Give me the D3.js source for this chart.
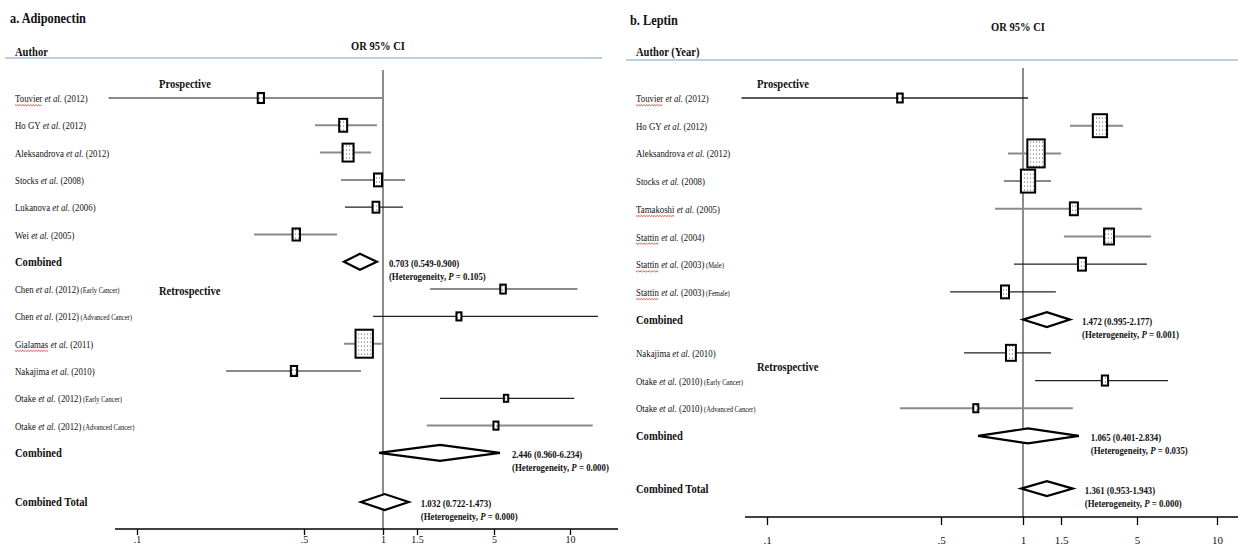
<!DOCTYPE html>
<html><head><meta charset="utf-8">
<script src="https://cdn.jsdelivr.net/npm/d3@7"></script>
<style>
body{margin:0;background:#fff}
svg{display:block}
text{font-family:"Liberation Serif","Times New Roman",serif;fill:#111}
</style>
</head><body>
<svg id="chart" width="1238" height="548"></svg>
<script>
// ---------------- DATA ----------------
// a. Adiponectin
const adipoAuthors = ["Touvier","Ho GY","Aleksandrova","Stocks","Lukanova","Wei","Chen","Chen","Gialamas","Nakajima","Otake","Otake"];
const adipoYears   = ["(2012)","(2012)","(2012)","(2008)","(2006)","(2005)","(2012)","(2012)","(2011)","(2010)","(2012)","(2012)"];
const adipoNotes   = ["","","","","","","(Early Cancer)","(Advanced Cancer)","","","(Early Cancer)","(Advanced Cancer)"];
const adipoDesign  = ["Prospective","Prospective","Prospective","Prospective","Prospective","Prospective",
                      "Retrospective","Retrospective","Retrospective","Retrospective","Retrospective","Retrospective"];
const adipoOR      = [0.330,0.705,0.736,0.957,0.940,0.464,5.43,2.89,0.848,0.454,5.58,5.09];
const adipoLower   = [0.076,0.551,0.575,0.692,0.716,0.309,1.84,0.916,0.710,0.236,2.15,1.75];
const adipoUpper   = [1.00,0.948,0.900,1.30,1.27,0.668,10.7,12.9,0.99,0.824,10.4,12.3];
const adipoWeight  = [3.6,4.6,6.4,4.6,3.9,4.3,3.2,2.9,10,3.6,2.5,2.9];
const adipoPooledLabel = ["Combined","Combined","Combined Total"];
const adipoPooledOR    = [0.817,2.15,1.02];
const adipoPooledLower = [0.710,0.966,0.824];
const adipoPooledUpper = [0.948,5.28,1.36];
const adipoPooledText  = ["0.703 (0.549-0.900)","2.446 (0.960-6.234)","1.032 (0.722-1.473)"];
const adipoPooledP     = ["0.105","0.000","0.000"];

// b. Leptin
const leptinAuthors = ["Touvier","Ho GY","Aleksandrova","Stocks","Tamakoshi","Stattin","Stattin","Stattin","Nakajima","Otake","Otake"];
const leptinYears   = ["(2012)","(2012)","(2012)","(2008)","(2005)","(2004)","(2003)","(2003)","(2010)","(2010)","(2010)"];
const leptinNotes   = ["","","","","","","(Male)","(Female)","","(Early Cancer)","(Advanced  Cancer)"];
const leptinDesign  = ["Prospective","Prospective","Prospective","Prospective","Prospective","Prospective","Prospective","Prospective",
                       "Retrospective","Retrospective","Retrospective"];
const leptinOR      = [0.342,2.78,1.149,1.055,1.84,3.21,2.09,0.859,0.903,3.01,0.671];
const leptinLower   = [0.079,1.73,0.881,0.851,0.789,1.57,0.927,0.540,0.607,1.137,0.342];
const leptinUpper   = [1.055,4.01,1.50,1.349,5.22,5.65,5.45,1.42,1.349,6.54,1.81];
const leptinWeight  = [3.2,8.2,10,8.2,4.6,5.7,4.6,4.6,5.7,3.6,2.9];
const leptinPooledLabel = ["Combined","Combined","Combined Total"];
const leptinPooledOR    = [1.29,1.055,1.29];
const leptinPooledLower = [1.0,0.684,0.984];
const leptinPooledUpper = [1.73,1.99,1.81];
const leptinPooledText  = ["1.472 (0.995-2.177)","1.065 (0.401-2.834)","1.361 (0.953-1.943)"];
const leptinPooledP     = ["0.001","0.035","0.000"];

// shared axis ticks
const tickValues = [0.1,0.5,1,1.5,5,10];
const tickLabels = [".1",".5","1","1.5","5","10"];
const sectionNames = ["Prospective","Retrospective"];
const spellFlagged = ["Touvier","Gialamas","Tamakoshi","Stattin"];

// ---------------- DRAWING ----------------
const svg = d3.select("#chart");
svg.append("rect").attr("width",1238).attr("height",548).attr("fill","#fff");

const defs = svg.append("defs");
const pat = defs.append("pattern").attr("id","dots").attr("patternUnits","userSpaceOnUse")
  .attr("width",3).attr("height",4);
pat.append("rect").attr("width",3).attr("height",4).attr("fill","#fff");
pat.append("circle").attr("cx",1.5).attr("cy",2).attr("r",0.55).attr("fill","#444");

const SQ = 0.88; // condensed look of the original serif type

function condensed(g, x, y) {
  return g.append("g").attr("transform", `translate(${x},${y}) scale(${SQ},1)`);
}

function drawPanel(cfg) {
  const g = svg.append("g");
  const xs = d3.scaleLinear().domain(tickValues.map(Math.log10)).range(cfg.tickPx);
  const x = v => xs(Math.log10(v));
  const wScale = d3.scaleLinear().domain([0,10]).range([0,28]);

  // row slots
  const nPro = cfg.design.filter(d => d === sectionNames[0]).length;
  const nRet = cfg.design.length - nPro;
  const slots = cfg.design.map((d,i) => i < nPro ? i : nPro + 1 + cfg.sectionGap + (i - nPro));
  const pooledSlots = [nPro, nPro + 1 + cfg.sectionGap + nRet];
  pooledSlots.push(pooledSlots[1] + 1 + cfg.totalGap);
  const y = d3.scaleLinear().domain([0,1]).range([cfg.y0, cfg.y0 + cfg.step]);

  // titles
  condensed(g, cfg.titleX, cfg.titleY).append("text").attr("font-size",14).attr("font-weight","bold").text(cfg.title);
  condensed(g, cfg.headX, cfg.headY).append("text").attr("font-size",12).attr("font-weight","bold").text(cfg.head);
  condensed(g, cfg.orX, cfg.orY).append("text").attr("font-size",12).attr("font-weight","bold")
    .attr("text-anchor","middle").text("OR 95% CI");
  g.append("line").attr("x1",cfg.ruleX0).attr("x2",cfg.ruleX1).attr("y1",cfg.ruleY).attr("y2",cfg.ruleY)
    .attr("stroke","#9fbfdf").attr("stroke-width",1.6);

  // reference line at OR = 1
  g.append("line").attr("x1",x(1)).attr("x2",x(1)).attr("y1",cfg.refTop).attr("y2",cfg.axisY)
    .attr("stroke","#666").attr("stroke-width",1.5);

  // section labels
  condensed(g, cfg.sectionX, y(-0.37)).append("text").attr("font-size",12).attr("font-weight","bold").text(sectionNames[0]);
  condensed(g, cfg.sectionX, y(nPro + 1 + cfg.sectionGap + cfg.retroOffset) + 4).append("text")
    .attr("font-size",12).attr("font-weight","bold").text(sectionNames[1]);

  // study labels
  cfg.authors.forEach((a,i) => {
    const grp = condensed(g, cfg.labelX, y(slots[i]) + 4);
    const t = grp.append("text").attr("font-size",10);
    const at = t.append("tspan").text(a);
    t.append("tspan").attr("font-style","italic").text(" et al.");
    t.append("tspan").text(" " + cfg.years[i]);
    if (cfg.notes[i]) t.append("tspan").attr("font-size",7.5).text(" " + cfg.notes[i]);
    if (spellFlagged.includes(a)) {
      const w = at.node().getComputedTextLength();
      const pts = d3.range(0, w + 0.1, 1.5).map((px,k) => [px, 2.6 + (k % 2 ? 1.2 : 0)]);
      grp.append("path").attr("d", d3.line()(pts)).attr("fill","none").attr("stroke","#e0302a").attr("stroke-width",0.9);
    }
  });

  // CI lines
  cfg.authors.forEach((a,i) => {
    const dark = cfg.darkLines.includes(i);
    g.append("line").attr("x1",x(cfg.lower[i])).attr("x2",x(cfg.upper[i]))
      .attr("y1",y(slots[i])).attr("y2",y(slots[i]))
      .attr("stroke", dark ? "#222" : "#8a8a8a").attr("stroke-width", dark ? 1.3 : 2);
  });
  // boxes
  cfg.authors.forEach((a,i) => {
    const h = wScale(cfg.weight[i]), w = h * 0.62;
    g.append("rect").attr("x",x(cfg.or[i]) - w/2).attr("y",y(slots[i]) - h/2)
      .attr("width",w).attr("height",h).attr("fill","url(#dots)")
      .attr("stroke","#000").attr("stroke-width",2);
  });

  // pooled rows
  cfg.pooledLabel.forEach((lab,j) => {
    const yy = y(pooledSlots[j]);
    condensed(g, cfg.labelX, yy + 4).append("text").attr("font-size",12).attr("font-weight","bold").text(lab);
    const hh = cfg.diamondH;
    const pts = [[x(cfg.pLower[j]),yy],[x(cfg.pOR[j]),yy-hh],[x(cfg.pUpper[j]),yy],[x(cfg.pOR[j]),yy+hh]];
    g.append("path").attr("d", d3.line()(pts) + "Z").attr("fill","#fff")
      .attr("stroke","#000").attr("stroke-width",2.2).attr("stroke-linejoin","miter");
    const tx = x(cfg.pUpper[j]) + 12;
    condensed(g, tx, yy + 5).append("text").attr("font-size",10).attr("font-weight","bold").text(cfg.pText[j]);
    const t2 = condensed(g, tx, yy + 18).append("text").attr("font-size",10).attr("font-weight","bold");
    t2.append("tspan").text("(Heterogeneity, ");
    t2.append("tspan").attr("font-style","italic").text("P");
    t2.append("tspan").text(" = " + cfg.pP[j] + ")");
  });

  // axis
  g.append("line").attr("x1",cfg.axisX0).attr("x2",cfg.axisX1).attr("y1",cfg.axisY).attr("y2",cfg.axisY)
    .attr("stroke","#000").attr("stroke-width",1.5);
  const ax = g.append("g").attr("transform",`translate(0,${cfg.axisY})`)
    .call(d3.axisBottom(xs).tickValues(tickValues.map(Math.log10))
      .tickFormat((d,i) => tickLabels[i]).tickSize(cfg.tickLen).tickSizeOuter(0).tickPadding(cfg.tickPad));
  ax.select(".domain").remove();
  ax.selectAll(".tick line").attr("stroke","#000").attr("stroke-width",1.3);
  ax.selectAll(".tick text").attr("font-family","'Liberation Serif',serif").attr("font-size",cfg.tickFont)
    .attr("fill","#111").attr("dy","0.71em");
}

drawPanel({
  title:"a. Adiponectin", titleX:10, titleY:23, head:"Author", headX:15, headY:56, orX:378, orY:50,
  ruleX0:5, ruleX1:602, ruleY:58, labelX:15, sectionX:159,
  tickPx:[137,304,383,417,494,570], axisY:529, axisX0:115, axisX1:618, refTop:70,
  tickLen:6, tickPad:1, tickFont:10,
  y0:98, step:27.3, sectionGap:0, totalGap:0.8, retroOffset:0.07, diamondH:8,
  authors:adipoAuthors, years:adipoYears, notes:adipoNotes, design:adipoDesign,
  or:adipoOR, lower:adipoLower, upper:adipoUpper, weight:adipoWeight, darkLines:[4,7,10],
  pooledLabel:adipoPooledLabel, pOR:adipoPooledOR, pLower:adipoPooledLower, pUpper:adipoPooledUpper,
  pText:adipoPooledText, pP:adipoPooledP
});

drawPanel({
  title:"b. Leptin", titleX:630, titleY:25, head:"Author (Year)", headX:636, headY:56, orX:1018, orY:31,
  ruleX0:626, ruleX1:1238, ruleY:60, labelX:636, sectionX:757,
  tickPx:[767,941,1023,1061,1137,1217], axisY:517, axisX0:745, axisX1:1238, refTop:68,
  tickLen:8, tickPad:11, tickFont:11,
  y0:98, step:27.7, sectionGap:0.2, totalGap:0.9, retroOffset:0.5, diamondH:7.5,
  authors:leptinAuthors, years:leptinYears, notes:leptinNotes, design:leptinDesign,
  or:leptinOR, lower:leptinLower, upper:leptinUpper, weight:leptinWeight, darkLines:[0,6,7,8,9],
  pooledLabel:leptinPooledLabel, pOR:leptinPooledOR, pLower:leptinPooledLower, pUpper:leptinPooledUpper,
  pText:leptinPooledText, pP:leptinPooledP
});
</script>
</body></html>
